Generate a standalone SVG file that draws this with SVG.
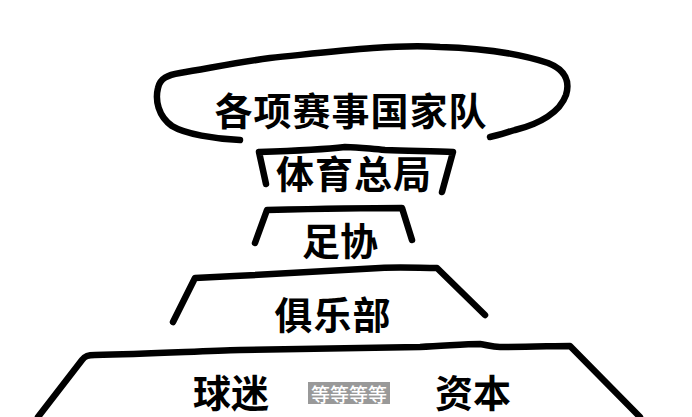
<svg xmlns="http://www.w3.org/2000/svg" width="692" height="417" viewBox="0 0 692 417">
<style>
.ln{fill:none;stroke:#000;stroke-width:6.5;stroke-linecap:round;stroke-linejoin:round}
.t{font-family:"Noto Sans CJK SC","Noto Sans",sans-serif;font-weight:700;font-size:38px;fill:#000;text-anchor:middle;dominant-baseline:central}
.s{font-family:"Noto Sans CJK SC","Noto Sans",sans-serif;font-weight:500;font-size:19px;fill:#fff;text-anchor:middle;dominant-baseline:central}
</style>
<rect width="692" height="417" fill="#fff"/>
<g id="connectors">
<path id="loop" class="ln" d="M240,140 C215,139 185,134 172,126 C158,116 155,100 158,88 C160,78 168,75 180,73 C210,68 240,62 270,58 C330,52 390,44 440,47 C480,48 520,54 548,63 C566,70 570,82 566,95 C560,112 540,124 515,130 C505,133 496,136 490,137"/>
<path id="br1" class="ln" d="M266,184 L259,152 C290,151 320,150 345,147 C360,147 370,149 385,150 C410,151 435,151 453,152 L442,192"/>
<path id="br2" class="ln" d="M255,243 L267,210 C310,209 360,208 402,208 L412,240"/>
<path id="br3" class="ln" d="M173,322 L195,278 C260,275 330,271 380,268 C400,267 420,268 437,268 L485,315"/>
<path id="br4" class="ln" d="M38,417 L82,360 C85,356 88,355 95,355 C150,354 200,351 240,350 C300,349 360,348 420,347 C445,346 465,344 480,344 C487,345 492,347 500,347 C530,347 555,346 570,346 L640,417"/>
</g>
<g id="n1"><text class="t" x="351" y="108" letter-spacing="1">各项赛事国家队</text></g>
<g id="n2"><text class="t" x="354" y="171" letter-spacing="1">体育总局</text></g>
<g id="n3"><text class="t" x="340" y="238">足协</text></g>
<g id="n4"><text class="t" x="333" y="312" letter-spacing="1">俱乐部</text></g>
<g id="n5"><text class="t" x="231" y="390">球迷</text></g>
<g id="n6"><rect x="308" y="382" width="82" height="22" fill="#999"/><text class="s" x="349" y="393">等等等等</text></g>
<g id="n7"><text class="t" x="473" y="390">资本</text></g>
</svg>
